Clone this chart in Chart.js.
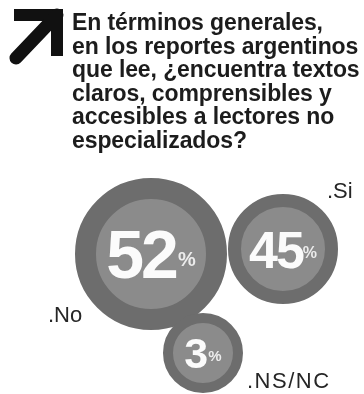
<!DOCTYPE html>
<html lang="es">
<head>
<meta charset="utf-8">
<title>Textos claros y accesibles</title>
<script src="https://cdn.jsdelivr.net/npm/chart.js@4/dist/chart.umd.min.js"></script>
<style>
  html, body { margin: 0; padding: 0; background: #ffffff; }
  #wrap { position: relative; width: 364px; height: 394px; overflow: hidden; }
  #bubbles { position: absolute; left: 0; top: 0; }
  #arrow { position: absolute; left: 0; top: 0; }
  #question {
    position: absolute; left: 72px; top: 11px;
    font-family: "Liberation Sans", Arial, Helvetica, sans-serif;
    font-weight: bold; font-size: 23px; line-height: 23.5px;
    color: #1c1c1c; white-space: nowrap; letter-spacing: -0.1px;
  }
</style>
</head>
<body>
<div id="wrap">
  <canvas id="bubbles" width="364" height="394"></canvas>
  <svg id="arrow" width="70" height="70" viewBox="0 0 70 70">
    <polyline points="14,15 57,15 57,56" fill="none" stroke="#111" stroke-width="12" stroke-linejoin="miter"/>
    <line x1="57" y1="15" x2="16" y2="58" stroke="#111" stroke-width="13" stroke-linecap="round"/>
  </svg>
  <div id="question">En términos generales,<br>en los reportes argentinos<br>que lee, ¿encuentra textos<br>claros, comprensibles y<br>accesibles a lectores no<br>especializados?</div>
</div>
<script>
// Answers and their shares of respondents (percent)
const answers = ['.No', '.Si', '.NS/NC'];
const shares = [52, 45, 3];
const unitSign = '%';

// Packed-bubble layout: centres on the page scale, ring radii in px
const bubbleCentreX = [151, 283, 203];
const bubbleCentreY = [254, 249, 353];
const outerRadius = [76, 55, 40];
const innerRadius = [55, 42, 30];
const numberFontPx = [68, 52, 43];
const signFontPx = [20, 16, 15];
const numberSpacing = [-3, -2, 0];
const signGap = [2, 0, 0];
// answer label anchor, offset from each bubble centre (left edge, baseline)
const labelOffsetX = [-103, 44, 44];
const labelOffsetY = [68, -51, 35];
const labelSpacing = [0, 0, 1.5];

const ringColour = '#6d6d6d';
const coreColour = '#8b8b8b';
const FONT = '"Liberation Sans", Arial, Helvetica, sans-serif';

const points = shares.map((v, i) => ({
  x: bubbleCentreX[i],
  y: bubbleCentreY[i],
  r: (outerRadius[i] + innerRadius[i]) / 2,
  share: v,
  answer: answers[i]
}));

const bubbleText = {
  id: 'bubbleText',
  afterDatasetsDraw(chart) {
    const ctx = chart.ctx;
    const meta = chart.getDatasetMeta(0);
    meta.data.forEach((el, i) => {
      const p = chart.data.datasets[0].data[i];
      const cx = el.x, cy = el.y;
      ctx.save();
      // big share number with a small percent sign
      const nf = numberFontPx[i];
      ctx.font = 'bold ' + nf + 'px ' + FONT;
      ctx.letterSpacing = numberSpacing[i] + 'px';
      const num = String(p.share);
      const wNum = ctx.measureText(num).width;
      ctx.font = 'bold ' + signFontPx[i] + 'px ' + FONT;
      ctx.letterSpacing = '0px';
      const wSign = ctx.measureText(unitSign).width;
      const total = wNum + signGap[i] + wSign;
      const x0 = cx - total / 2;
      const base = cy + nf * 0.36;
      ctx.textAlign = 'left';
      ctx.textBaseline = 'alphabetic';
      ctx.fillStyle = '#fbfbfb';
      ctx.font = 'bold ' + nf + 'px ' + FONT;
      ctx.letterSpacing = numberSpacing[i] + 'px';
      ctx.fillText(num, x0, base);
      ctx.letterSpacing = '0px';
      ctx.fillStyle = '#ececec';
      ctx.font = 'bold ' + signFontPx[i] + 'px ' + FONT;
      ctx.fillText(unitSign, x0 + wNum + signGap[i], base - nf * 0.18);
      // answer label beside the bubble
      ctx.fillStyle = '#262626';
      ctx.font = '22px ' + FONT;
      ctx.letterSpacing = labelSpacing[i] + 'px';
      ctx.fillText(p.answer, cx + labelOffsetX[i], cy + labelOffsetY[i]);
      ctx.restore();
    });
  }
};

new Chart(document.getElementById('bubbles'), {
  type: 'bubble',
  data: {
    labels: answers,
    datasets: [{
      data: points,
      backgroundColor: coreColour,
      borderColor: ringColour,
      borderWidth: outerRadius.map((o, i) => o - innerRadius[i]),
      hoverBorderWidth: outerRadius.map((o, i) => o - innerRadius[i]),
      clip: false
    }]
  },
  options: {
    responsive: false,
    animation: false,
    events: [],
    layout: { padding: 0, autoPadding: false },
    plugins: { legend: { display: false }, tooltip: { enabled: false } },
    scales: {
      x: { type: 'linear', min: 0, max: 364, display: false },
      y: { type: 'linear', min: 0, max: 394, reverse: true, display: false }
    }
  },
  plugins: [bubbleText]
});
</script>
</body>
</html>
